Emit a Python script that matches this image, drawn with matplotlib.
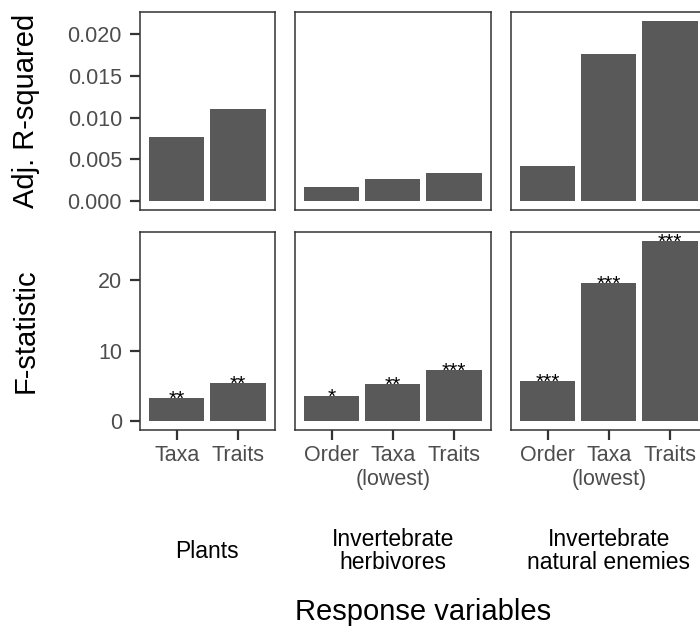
import numpy as np
import matplotlib.pyplot as plt

plt.rcParams['font.family'] = ['Liberation Sans', 'DejaVu Sans']

# facet groups and the response variable levels inside each
groups = ["Plants", "Invertebrate\nherbivores", "Invertebrate\nnatural enemies"]
levels = [["Taxa", "Traits"],
          ["Order", "Taxa\n(lowest)", "Traits"],
          ["Order", "Taxa\n(lowest)", "Traits"]]

# values
adj_r2 = [[0.0077, 0.0110],
          [0.0017, 0.0027, 0.0034],
          [0.0042, 0.0177, 0.0216]]
f_stat = [[3.25, 5.37],
          [3.53, 5.23, 7.30],
          [5.65, 19.55, 25.57]]
signif = [["**", "**"],
          ["*", "**", "***"],
          ["***", "***", "***"]]

row_titles = ["Adj. R-squared", "F-statistic"]
top_ticks = [0, 0.005, 0.010, 0.015, 0.020]
bottom_ticks = [0, 10, 20]

W, H = 700, 628
fig = plt.figure(figsize=(W / 100, H / 100), dpi=100)


def px_axes(left, top, width, height):
    return fig.add_axes([left / W, 1 - (top + height) / H, width / W, height / H])


bar_col = '#595959'
line_col = '#333333'
lab_col = '#4D4D4D'
unit = 61.25          # pixels per category on the x scale
gap = 20
row_tops = [12, 232]
row_h = 198

rows = [(adj_r2, top_ticks, None), (f_stat, bottom_ticks, signif)]

for r, (data, ticks, stars) in enumerate(rows):
    ymax = max(max(v) for v in data)
    pad = 0.05 * ymax
    left = 140
    for g in range(len(groups)):
        n = len(levels[g])
        width = (n + 0.2) * unit
        ax = px_axes(left, row_tops[r], width, row_h)
        x = np.arange(n)
        ax.bar(x, data[g], width=0.9, color=bar_col, edgecolor='none')
        ax.set_xlim(-0.6, n - 0.4)
        ax.set_ylim(-pad, ymax + pad)
        for s in ax.spines.values():
            s.set_color(line_col)
            s.set_linewidth(1.1)
        ax.tick_params(colors=line_col, labelcolor=lab_col, length=7,
                       width=1.6, labelsize=15.5)
        ax.tick_params(axis='y', pad=6)
        ax.set_yticks(ticks)
        if g == 0:
            if r == 0:
                ax.set_yticklabels([f"{t:.3f}" for t in ticks])
            fig.text(26 / W, 1 - (row_tops[r] + row_h / 2) / H, row_titles[r],
                     rotation=90, ha='center', va='center', fontsize=21)
        else:
            ax.tick_params(axis='y', left=False, labelleft=False)
        if r == 0:
            ax.tick_params(axis='x', bottom=False, labelbottom=False)
        else:
            ax.set_xticks(x)
            ax.set_xticklabels(levels[g], linespacing=1.15)
            ax.tick_params(axis='x', pad=4)
            # significance stars sitting on the bar tops
            for xi, v, s in zip(x, data[g], stars[g]):
                ax.annotate(s, (xi, v), xytext=(0, -5), textcoords='offset points',
                            ha='center', va='baseline', fontsize=15, color='black')
            fig.text((left + width / 2) / W, 1 - 551 / H, groups[g],
                     ha='center', va='center', fontsize=16.5, color='black',
                     linespacing=1.0)
        left += width + gap

fig.text((140 + 706) / 2 / W, 1 - 612 / H, "Response variables",
         ha='center', va='center', fontsize=21, color='black')

fig.savefig('out.png', dpi=100)
